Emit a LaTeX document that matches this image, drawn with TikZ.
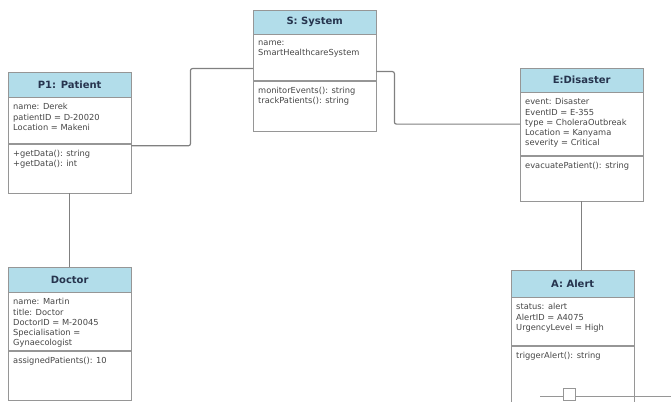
\documentclass[tikz,border=0pt]{standalone}
\usepackage{fontspec}
\setmainfont{DejaVu Sans}
\usetikzlibrary{calc, positioning}
\definecolor{headblue}{RGB}{178,221,234}
\definecolor{linegray}{RGB}{150,150,150}
\definecolor{titlecol}{RGB}{38,52,78}
\definecolor{bodytext}{RGB}{70,70,70}
\def\boxwidth{123pt}
\tikzstyle{head}=[draw=linegray, fill=headblue, minimum width=\boxwidth, anchor=north west, text=titlecol, font=\fontsize{10}{12}\selectfont\bfseries, inner sep=0pt]
\tikzstyle{part}=[draw=linegray, fill=white, minimum width=\boxwidth, anchor=north west, inner sep=0pt]
\tikzstyle{members}=[anchor=north west, align=left, text=bodytext, font=\fontsize{8.3}{10.2}\selectfont, inner xsep=5pt, inner ysep=6pt]
\tikzstyle{link}=[draw=gray, line width=1.2pt, rounded corners=2pt]

\begin{document}
\begin{tikzpicture}[x=1pt, y=-1pt]
		\useasboundingbox (0,0) rectangle (671,401);
		\node[head, minimum height=24pt] (S) at (253,10) {S: System};
		\node[part, minimum height=46pt] (S-a) at (S.south west) {};
		\node[part, minimum height=50pt] (S-m) at (S-a.south west) {};
		\node[members] (S-at) at (S-a.north west) {name:\\SmartHealthcareSystem};
		\node[members] (S-mt) at (S-m.north west) {monitorEvents(): string\\trackPatients(): string};

		\node[head, minimum height=25pt] (P) at (8,72) {P1: Patient};
		\node[part, minimum height=46pt] (P-a) at (P.south west) {};
		\node[part, minimum height=49pt] (P-m) at (P-a.south west) {};
		\node[members] (P-at) at (P-a.north west) {name: Derek\\patientID = D-20020\\Location = Makeni};
		\node[members] (P-mt) at (P-m.north west) {+getData(): string\\+getData(): int};

		\node[head, minimum height=24pt] (E) at (520,68) {E:Disaster};
		\node[part, minimum height=63pt] (E-a) at (E.south west) {};
		\node[part, minimum height=45pt] (E-m) at (E-a.south west) {};
		\node[members] (E-at) at (E-a.north west) {event: Disaster\\EventID = E-355\\type = CholeraOutbreak\\Location = Kanyama\\severity = Critical};
		\node[members] (E-mt) at (E-m.north west) {evacuatePatient(): string};

		\node[head, minimum height=25pt] (D) at (8,267) {Doctor};
		\node[part, minimum height=58pt] (D-a) at (D.south west) {};
		\node[part, minimum height=49pt] (D-m) at (D-a.south west) {};
		\node[members] (D-at) at (D-a.north west) {name: Martin\\title: Doctor\\DoctorID = M-20045\\Specialisation =\\Gynaecologist};
		\node[members] (D-mt) at (D-m.north west) {assignedPatients(): 10};

		\node[head, minimum height=27pt] (A) at (511,270) {A: Alert};
		\node[part, minimum height=48pt] (A-a) at (A.south west) {};
		\node[part, minimum height=60pt] (A-m) at (A-a.south west) {};
		\node[members] (A-at) at (A-a.north west) {status: alert\\AlertID = A4075\\UrgencyLevel = High};
		\node[members] (A-mt) at (A-m.north west) {triggerAlert(): string};

		\draw[link] ([yshift=-2pt]P-m.north east) -- ++(59,0) |- ([yshift=-11pt]S-a.west);
		\draw[link] ([yshift=-14pt]S-a.east) -- ++(18,0) |- (E-a.west);
		\draw[link] (P-m.south) -- (D.north);
		\draw[link] (E-m.south) -- (E-m.south |- A.north);

		\coordinate (x-l) at (540,396);
		\coordinate (x-r) at (671,396);
		\node[draw=linegray, fill=white, minimum size=12pt, inner sep=0pt] (x-sq) at (569,394) {};
		\draw[draw=linegray, line width=0.8pt] (x-l) -- (x-l -| x-sq.west);
		\draw[draw=linegray, line width=0.8pt] (x-r -| x-sq.east) -- (x-r);
\end{tikzpicture}
\end{document}
